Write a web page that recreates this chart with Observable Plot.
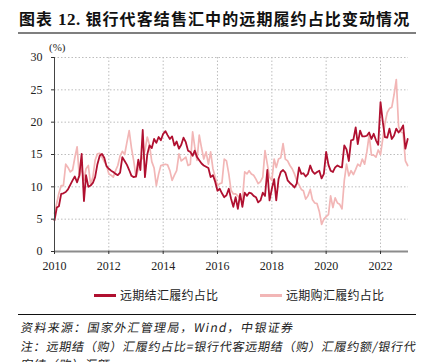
<!DOCTYPE html>
<html><head><meta charset="utf-8">
<script src="https://cdn.jsdelivr.net/npm/d3@7"></script>
<script src="https://cdn.jsdelivr.net/npm/@observablehq/plot@0.6"></script>
<style>
body{margin:0;width:432px;height:362px;overflow:hidden;background:#fff;position:relative;font-family:"Noto Sans CJK SC",sans-serif;color:#111;}
#title{position:absolute;left:19px;top:8px;font-size:16px;font-weight:700;letter-spacing:1.1px;white-space:nowrap;line-height:20px;}
#title .num{font-family:"Liberation Serif",serif;font-weight:700;font-size:17px;letter-spacing:0.5px;}
#rule1{position:absolute;left:18px;top:32px;width:398px;height:2px;background:#7f7f7f;}
#unit{position:absolute;left:49px;top:41px;font-family:"Liberation Serif",serif;font-size:11px;color:#222;}
#chart{position:absolute;left:0;top:40px;}
#chart svg text{font-family:"Liberation Serif",serif;}
.sw{position:absolute;height:2.5px;}
.lt{position:absolute;font-size:12px;line-height:14px;white-space:nowrap;color:#222;letter-spacing:0.3px;}
#rule2{position:absolute;left:18px;top:314px;width:398px;height:1px;background:#111;}
.cap{position:absolute;left:20px;font-size:12px;white-space:nowrap;color:#222;line-height:14px;letter-spacing:0.75px;transform:skewX(-10deg);transform-origin:left bottom;}
</style></head><body>
<div id="title">图表 <span class="num">12.</span> 银行代客结售汇中的远期履约占比变动情况</div>
<div id="rule1"></div>
<div id="unit">(%)</div>
<div id="chart"></div>
<div id="legend"></div>
<div id="rule2"></div>
<div class="cap" style="top:320px;letter-spacing:1.3px">资料来源：国家外汇管理局，Wind，中银证券</div>
<div class="cap" style="top:339px">注：远期结（购）汇履约占比=银行代客远期结（购）汇履约额/银行代</div>
<div class="cap" style="top:357px">客结（购）汇额</div>
<script>
const startYear = 2010;
const seriesNames = ["远期结汇履约占比", "远期购汇履约占比"];
const seriesColors = ["#b01030", "#f2b6b6"];
// 远期结汇履约占比 (monthly, 2010-01 .. 2023-01)
const settleRatio = [
 4.8, 6.8, 7.0, 8.9, 9.0, 9.2, 9.6, 10.3, 11.0, 11.6, 10.7, 11.8,
 15.1, 7.8, 11.8, 10.0, 10.2, 10.6, 11.5, 13.5, 14.8, 15.1, 14.5, 13.2,
 12.8, 12.5, 12.3, 12.0, 11.8, 12.2, 14.6, 14.0, 13.4, 12.6, 11.7, 11.5,
 11.6, 14.2, 12.6, 18.8, 11.5, 15.0, 16.4, 16.0, 17.4, 16.8, 17.7, 17.2,
 18.2, 18.6, 18.0, 17.4, 17.8, 16.4, 17.0, 15.9, 16.5, 17.6, 16.9, 15.6,
 15.4, 14.8, 15.6, 14.6, 14.1, 13.6, 13.3, 13.1, 12.9, 11.5, 11.8, 10.8,
 9.4, 9.7, 9.0, 8.4, 8.7, 9.7, 8.2, 6.9, 8.4, 6.6, 8.9, 6.9,
 9.1, 8.6, 9.1, 9.0, 8.6, 8.4, 7.6, 7.9, 9.1, 8.6, 12.6, 7.9,
 9.7, 11.2, 7.9, 11.2, 12.3, 12.6, 12.2, 11.0, 10.6, 10.3, 9.9, 10.5,
 13.0, 12.0, 12.1, 11.6, 12.0, 13.3, 12.4, 12.0, 12.3, 12.5, 11.3, 12.0,
 15.4, 13.4, 12.5, 12.3, 13.0, 13.3, 13.1, 13.0, 16.4, 15.8, 14.0, 17.2,
 17.3, 19.2, 16.6, 18.7, 17.8, 17.8, 17.9, 18.4, 17.4, 18.2, 17.2, 16.5,
 23.1, 20.0, 17.7, 17.6, 19.0, 17.4, 17.9, 19.0, 18.4, 18.8, 19.5, 15.9,
 17.4
];
// 远期购汇履约占比 (monthly, 2010-01 .. 2023-01)
const purchaseRatio = [
 5.9, 7.5, 9.0, 10.2, 10.2, 13.5, 13.0, 12.3, 12.6, 14.5, 16.2, 11.5,
 13.0, 11.0, 12.8, 13.3, 10.4, 11.5, 14.1, 15.1, 15.2, 14.6, 13.9, 13.3,
 12.0, 11.8, 11.5, 12.5, 13.3, 14.8, 15.5, 15.0, 16.9, 18.7, 16.0, 14.0,
 11.5, 12.8, 14.0, 14.5, 15.6, 17.7, 16.5, 13.9, 12.9, 10.2, 12.0, 13.3,
 13.4, 13.5, 13.4, 12.5, 11.0, 11.8, 12.5, 15.1, 14.0, 14.3, 14.6, 13.3,
 13.5, 18.5, 16.2, 14.1, 18.0, 16.0, 14.3, 15.4, 13.5, 15.4, 12.8, 11.5,
 10.2, 10.5, 10.6, 14.3, 14.0, 12.0, 9.5, 8.9, 8.9, 8.6, 8.2, 7.9,
 12.3, 12.0, 12.5, 12.0, 11.8, 11.2, 10.5, 10.8, 11.5, 15.6, 13.5, 11.5,
 11.0, 14.3, 13.0, 14.3, 14.5, 16.7, 14.3, 14.0, 13.3, 12.8, 12.0, 11.0,
 10.3, 9.6, 9.4, 8.1, 8.6, 9.6, 8.0, 7.5, 7.4, 6.2, 4.2, 5.0,
 5.4, 5.7, 8.6, 6.8, 8.3, 7.5, 7.3, 6.6, 11.0, 13.5, 11.7, 12.5,
 11.9, 12.7, 13.5, 13.2, 14.3, 13.5, 15.4, 18.0, 14.9, 14.9, 14.6, 15.7,
 15.0, 17.5, 19.8, 21.5, 22.1, 22.3, 24.2, 26.6, 19.3, 18.5, 18.3, 14.0,
 13.3
];
const yTicks = [0, 5, 10, 15, 20, 25, 30];
const xTickYears = [2010, 2012, 2014, 2016, 2018, 2020, 2022];

const data = settleRatio.map((v, i) => ({
  date: new Date(Date.UTC(startYear, i, 1)),
  settle: v,
  purchase: purchaseRatio[i]
}));
const xTicks = xTickYears.map(y => new Date(Date.UTC(y, 0, 1)));
const x0 = xTicks[0];
const axisFont = "Liberation Serif, serif";

const chart = Plot.plot({
  width: 432, height: 235,
  marginTop: 17, marginBottom: 24, marginLeft: 54, marginRight: 24,
  style: {fontFamily: axisFont, fontSize: "12px", color: "#333", background: "transparent", overflow: "visible"},
  x: {type: "utc", domain: [x0, new Date(Date.UTC(2023, 0, 12))]},
  y: {domain: [0, 30]},
  marks: [
    Plot.gridY(yTicks.slice(1), {stroke: "#bdbdbd", strokeOpacity: 1, strokeDasharray: "1.5,2"}),
    Plot.gridX(xTicks.slice(1), {stroke: "#bdbdbd", strokeOpacity: 1, strokeDasharray: "1.5,2"}),
    Plot.lineY(data, {x: "date", y: "purchase", stroke: seriesColors[1], strokeWidth: 1.7}),
    Plot.lineY(data, {x: "date", y: "settle", stroke: seriesColors[0], strokeWidth: 1.8}),
    Plot.ruleY([0], {stroke: "#8c8c8c", strokeWidth: 2}),
    Plot.ruleX([x0], {stroke: "#444", strokeWidth: 1}),
    Plot.axisY(yTicks, {tickSize: 3, tickPadding: 9, label: null, fill: "#222", fontFamily: axisFont, fontSize: 12}),
    Plot.axisX(xTicks, {tickSize: 3, tickPadding: 7, label: null, tickFormat: d => String(d.getUTCFullYear()), fill: "#222", fontFamily: axisFont, fontSize: 12})
  ]
});
document.getElementById("chart").appendChild(chart);

const legend = document.getElementById("legend");
const items = [{x: 94, w: 22, tx: 120}, {x: 260, w: 22, tx: 286}];
items.forEach((it, i) => {
  const sw = document.createElement("div");
  sw.className = "sw";
  sw.style.left = it.x + "px"; sw.style.top = "294px"; sw.style.width = it.w + "px";
  sw.style.background = seriesColors[i];
  legend.appendChild(sw);
  const t = document.createElement("div");
  t.className = "lt";
  t.style.left = it.tx + "px"; t.style.top = "288px";
  t.textContent = seriesNames[i];
  legend.appendChild(t);
});
</script>
</body></html>
